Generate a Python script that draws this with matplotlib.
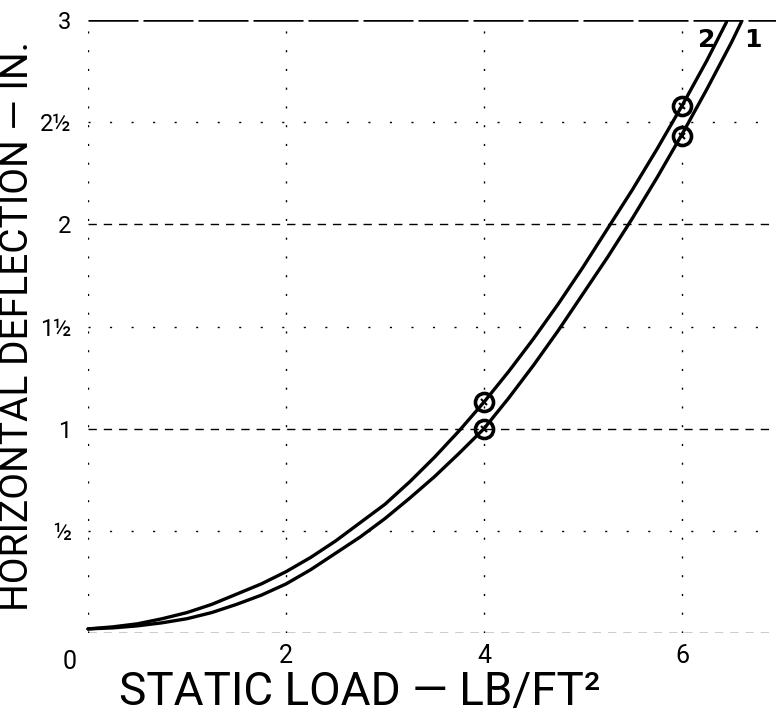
import matplotlib
matplotlib.use("Agg")
import matplotlib.pyplot as plt
import matplotlib.transforms as mtransforms

## Values
load_2 = [0, 0.25, 0.5, 0.75, 1, 1.25, 1.5, 1.75, 2, 2.25, 2.5, 2.75, 3, 3.25, 3.5, 3.75, 4,
          4.25, 4.5, 4.75, 5, 5.25, 5.5, 5.75, 6, 6.25, 6.45]
defl_2 = [0.02, 0.03, 0.045, 0.07, 0.10, 0.14, 0.19, 0.24, 0.30, 0.37, 0.45, 0.54, 0.63, 0.74, 0.86, 0.99, 1.13,
          1.28, 1.44, 1.61, 1.79, 1.98, 2.17, 2.37, 2.58, 2.80, 2.99]
load_1 = [0, 0.25, 0.5, 0.75, 1, 1.25, 1.5, 1.75, 2, 2.25, 2.5, 2.75, 3, 3.25, 3.5, 3.75, 4,
          4.25, 4.5, 4.75, 5, 5.25, 5.5, 5.75, 6, 6.25, 6.5, 6.6]
defl_1 = [0.02, 0.025, 0.035, 0.05, 0.07, 0.10, 0.14, 0.185, 0.24, 0.31, 0.39, 0.47, 0.56, 0.66, 0.765, 0.88, 1.0,
          1.15, 1.31, 1.48, 1.66, 1.84, 2.03, 2.23, 2.44, 2.66, 2.89, 2.99]

# measured points (circles)
pts_load = [4, 4, 6, 6]
pts_defl = [1.13, 1.0, 2.58, 2.43]

x_ticks = [0, 2, 4, 6]
x_labels = ["0", "2", "4", "6"]
y_ticks = [0.5, 1, 1.5, 2, 2.5, 3]
y_labels = ["½", "1", "1½", "2", "2½", "3"]
major_y = [0, 1, 2, 3]
minor_y = [0.5, 1.5, 2.5]
vert_x = [0, 2, 4, 6]

font = ["Roboto", "DejaVu Sans"]

fig = plt.figure(figsize=(7.76, 7.19), dpi=100)
ax = fig.add_axes([88/776, 86/719, 688/776, 613/719])
ax.set_xlim(0, 6.95)
ax.set_ylim(0, 3.0)
for s in ax.spines.values():
  s.set_visible(False)

## grid, drawn like the hand-ruled lines
for y in major_y:
  if y == 3:
    ax.axhline(y, color="black", lw=1.8, dashes=(20, 2), zorder=1)
  else:
    ax.axhline(y, color="black", lw=1.0, dashes=(6, 5), zorder=1)
for y in minor_y:
  ax.axhline(y, color="black", lw=1.0, dashes=(1.5, 14), zorder=1)
for x in vert_x:
  ax.axvline(x, color="black", lw=1.0, dashes=(1.5, 12), zorder=1)

## curves
ax.plot(load_2, defl_2, color="black", lw=2.4, solid_capstyle="round", solid_joinstyle="round", clip_on=False, zorder=3)
ax.plot(load_1, defl_1, color="black", lw=2.4, solid_capstyle="round", solid_joinstyle="round", clip_on=False, zorder=3)
ax.plot(pts_load, pts_defl, "o", ms=13, mfc="none", mec="black", mew=2.6, zorder=4)
ax.plot(pts_load, pts_defl, "x", ms=5, mec="black", mew=1.5, zorder=4)

ax.text(6.25, 2.9, "2", fontsize=18, fontweight="bold", ha="center", va="center")
ax.text(6.72, 2.9, "1", fontsize=18, fontweight="bold", ha="center", va="center")

## ticks
ax.set_xticks(x_ticks)
ax.set_xticklabels(x_labels, fontsize=18, family=font)
ax.set_yticks(y_ticks)
ax.set_yticklabels(y_labels, fontsize=17, family=font)
ax.tick_params(axis="x", length=0, pad=8)
ax.tick_params(axis="y", length=0, pad=12)
lab0 = ax.get_xticklabels()[0]
lab0.set_transform(lab0.get_transform() + mtransforms.ScaledTranslation(-18/100, -6/100, fig.dpi_scale_trans))

ax.set_xlabel("STATIC LOAD — LB/FT²", fontsize=33, family=font)
ax.xaxis.set_label_coords(0.395, -0.097)
ax.xaxis.label.set_va("center")
ax.set_ylabel("HORIZONTAL DEFLECTION — IN.", fontsize=28, family=font)
ax.yaxis.set_label_coords(-0.103, 0.5)
ax.yaxis.label.set_va("center")

fig.savefig("out.png", dpi=100)
